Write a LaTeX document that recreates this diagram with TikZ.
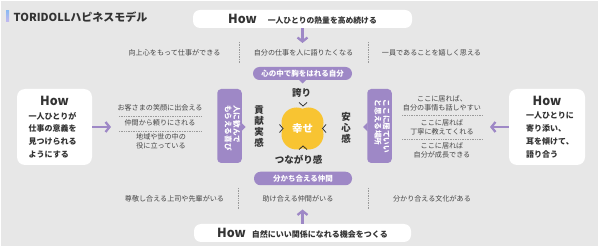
\documentclass[tikz,border=0pt]{standalone}
\usepackage{fontspec}
\setmainfont{Noto Sans CJK JP}
\usetikzlibrary{arrows.meta}
\definecolor{bg}{HTML}{E7E7E7}
\definecolor{pu}{HTML}{9E88C6}
\definecolor{yl}{HTML}{F8C432}
\definecolor{tx}{HTML}{444444}
\definecolor{dk}{HTML}{333333}
\definecolor{sepc}{HTML}{9A9A9A}
\definecolor{barT}{HTML}{8DB9F2}
\definecolor{barB}{HTML}{C4B8F0}
\begin{document}
\begin{tikzpicture}[x=1pt,y=-1pt,
 hbox/.style={fill=white, rounded corners=7pt, inner sep=0pt},
 howtxt/.style={text=dk, font=\fontsize{12.5}{13}\selectfont\bfseries, inner sep=0pt},
 howlines/.style={text=dk, font=\fontsize{8}{12.7}\selectfont\bfseries, align=left, inner sep=0pt},
 rowtxt/.style={text=tx, font=\fontsize{7.1}{8.8}\selectfont, align=center, inner sep=0pt},
 sep/.style={draw=sepc, line width=0.6pt, dash pattern=on 0.7pt off 1pt},
 arr/.style={draw=pu, line width=2.3pt, -{Straight Barb[length=4pt,width=10pt]}},
 pill/.style={fill=pu, rounded corners=6.5pt, text=white, font=\fontsize{7.5}{8}\selectfont\bfseries, inner sep=0pt},
 vbox/.style={fill=pu, rounded corners=4pt, minimum width=24.5pt, minimum height=74pt, inner sep=0pt},
 vtxt/.style={rotate=-90, text=white, font=\fontsize{7.6}{8.4}\selectfont\bfseries, align=left, inner sep=0pt},
 chev/.style={draw=dk, line width=0.8pt},
 bigtxt/.style={text=dk, font=\fontsize{9.5}{11}\selectfont\bfseries, align=center, inner sep=0pt}]
\useasboundingbox (0,0) rectangle (600,248);
\fill[white] (0,0) rectangle (600,248);
\fill[bg] (1,1.5) rectangle (598,246);
% title
\shade[top color=barT, bottom color=barB] (6,11) rectangle (9,22);
\node[anchor=west, text=dk, font=\fontsize{11}{11}\selectfont\bfseries, inner sep=0pt] (title) at (13.5,17) {TORIDOLLハピネスモデル};
% top How box
\node[hbox, minimum width=219pt, minimum height=18pt] (topbox) at (302.5,19)
 {\color{dk}\fontsize{12.5}{13}\selectfont\bfseries How\hspace{11pt}\fontsize{7.8}{8}\selectfont 一人ひとりの熱量を高め続ける};
\coordinate (topend) at (302.5,43);
\draw[arr] (topbox.south) -- (topend);
% top row
\node[rowtxt] (t1) at (174.5,53) {向上心をもって仕事ができる};
\node[rowtxt] (t2) at (303.5,53) {自分の仕事を人に語りたくなる};
\node[rowtxt] (t3) at (431.5,53) {一員であることを嬉しく思える};
\draw[sep] (239,42) -- (239,63);
\draw[sep] (368,42) -- (368,63);
% bottom row
\node[rowtxt] (b1) at (174.5,199) {尊敬し合える上司や先輩がいる};
\node[rowtxt] (b2) at (298,199) {助け合える仲間がいる};
\node[rowtxt] (b3) at (432,199) {分かり合える文化がある};
\draw[sep] (238,188) -- (238,209);
\draw[sep] (368,188) -- (368,209);
% bottom How box
\node[hbox, minimum width=217pt, minimum height=18pt] (botbox) at (302.5,233)
 {\color{dk}\fontsize{12.5}{13}\selectfont\bfseries How\hspace{6pt}\fontsize{8}{8}\selectfont 自然にいい関係になれる機会をつくる};
\coordinate (botend) at (302.5,209.5);
\draw[arr] (botbox.north) -- (botend);
% left group
\node[rowtxt] (l1) at (160,108) {お客さまの笑顔に出会える};
\draw[sep] (119,116) -- (201,116);
\node[rowtxt] (l2) at (160,123) {仲間から頼りにされる};
\draw[sep] (119,131) -- (201,131);
\node[rowtxt] (l3) at (161,141.5) {地域や世の中の\\役に立っている};
% right group
\node[rowtxt] (r1) at (442,103) {ここに居れば、\\自分の事情も話しやすい};
\draw[sep] (402,115) -- (482,115);
\node[rowtxt] (r2) at (442,127.5) {ここに居れば\\丁寧に教えてくれる};
\draw[sep] (402,139) -- (482,139);
\node[rowtxt] (r3) at (442,150) {ここに居れば\\自分が成長できる};
% left How box
\node[hbox, minimum width=75pt, minimum height=76pt, rounded corners=8pt] (lbox) at (54.5,127) {};
\node[howtxt] (lhow) at (54.5,101) {How};
\node[howlines, anchor=west] (llines) at (28.5,135) {一人ひとりが\\仕事の意義を\\見つけられる\\ようにする};
\coordinate (lend) at (111,127);
\draw[arr] (lbox.east) -- (lend);
% right How box
\node[hbox, minimum width=76pt, minimum height=76pt, rounded corners=8pt] (rbox) at (547,127) {};
\node[howtxt] (rhow) at (547,101) {How};
\node[howlines, anchor=west] (rlines) at (526,135) {一人ひとりに\\寄り添い、\\耳を傾けて、\\語り合う};
\coordinate (rend) at (490,127);
\draw[arr] (rbox.west) -- (rend);
% pills
\node[pill, minimum width=99pt, minimum height=13pt] (ptop) at (302.5,73.5) {心の中で胸をはれる自分};
\fill[pu] (298.5,79.5) -- (302.5,83.5) -- (306.5,79.5) -- cycle;
\node[pill, minimum width=98pt, minimum height=13.5pt] (pbot) at (303,178.5) {分かち合える仲間};
% vertical boxes
\node[vbox] (lv) at (229.5,126) {};
\fill[pu] (241,122.5) -- (245.5,127) -- (241,131.5) -- cycle;
\node[vtxt] (lvt) at (232.5,128) {人に歓んで\\もらえる喜び};
\node[vbox] (rv) at (379.5,126) {};
\fill[pu] (367.5,122.5) -- (363,127) -- (367.5,131.5) -- cycle;
\node[vtxt] (rvt) at (382,126.5) {ここに居ていい\\と思える場所};
% center
\fill[yl] (296.5,122.5) circle (15) (308.5,122.5) circle (15) (296.5,134.5) circle (15) (308.5,134.5) circle (15);
\node[text=white, font=\fontsize{10.5}{11}\selectfont\bfseries, inner sep=0pt] (happy) at (302.5,128.5) {幸せ};
\node[bigtxt] (hokori) at (301.5,93) {誇り};
\node[bigtxt] (tsuna) at (298.5,160) {つながり感};
\node[bigtxt] (kouken) at (259,127) {貢\\献\\実\\感};
\node[bigtxt] (anshin) at (346,127.5) {安\\心\\感};
\draw[chev] (299,102.5) -- (303,106) -- (307,102.5);
\draw[chev] (299,149.5) -- (303,146) -- (307,149.5);
\draw[chev] (279.5,124.5) -- (283,128.5) -- (279.5,132.5);
\draw[chev] (326,124.5) -- (322.5,128.5) -- (326,132.5);
\end{tikzpicture}
\end{document}
